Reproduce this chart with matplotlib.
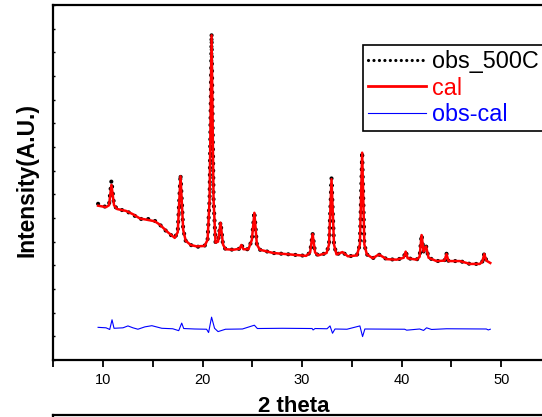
import numpy as np
import matplotlib.pyplot as plt
from matplotlib.ticker import MultipleLocator, NullFormatter

plt.rcParams['font.family'] = ['Liberation Sans', 'DejaVu Sans']

# observed / calculated pattern (2 theta, intensity)
two_theta = [9.5, 10.3, 10.6, 10.84, 11.1, 11.4, 12.3, 13.0, 13.7, 14.5, 15.2, 15.7,
             16.5, 17.2, 17.5, 17.78, 18.05, 18.3, 18.8, 19.4, 20.2, 20.5, 20.7, 20.9,
             21.1, 21.3, 21.55, 21.8, 22.05, 22.3, 23.1, 23.7, 23.9, 24.1, 24.6, 24.95,
             25.2, 25.45, 25.75, 27.1, 28.8, 30.4, 30.8, 31.05, 31.3, 31.6, 32.45, 32.7,
             32.95, 33.2, 33.45, 34.05, 34.6, 35.5, 35.8, 36.03, 36.25, 36.5, 37.1, 37.7,
             38.5, 39.5, 40.2, 40.4, 40.6, 41.5, 41.8, 42.0, 42.2, 42.45, 42.7, 43.5,
             44.3, 44.5, 44.7, 45.85, 46.85, 47.85, 48.1, 48.3, 48.5, 48.9]
obs = [3300, 3230, 3280, 3790, 3280, 3190, 3150, 3070, 2980, 2980, 2940, 2860,
       2690, 2580, 2710, 3920, 2760, 2520, 2430, 2390, 2410, 2540, 3390, 6890,
       3390, 2480, 2500, 2910, 2440, 2340, 2330, 2350, 2440, 2340, 2340, 2540,
       3130, 2440, 2330, 2260, 2230, 2200, 2270, 2670, 2270, 2210, 2260, 2440,
       3840, 2440, 2230, 2280, 2190, 2210, 2440, 4400, 2440, 2230, 2150, 2230,
       2130, 2120, 2160, 2300, 2150, 2120, 2180, 2650, 2290, 2410, 2160, 2090,
       2100, 2250, 2090, 2090, 2030, 2030, 2080, 2250, 2100, 2050]
cal = [3260, 3230, 3270, 3700, 3270, 3190, 3150, 3080, 2990, 2960, 2930, 2860,
       2700, 2580, 2700, 3880, 2750, 2520, 2430, 2400, 2410, 2540, 3380, 6860,
       3380, 2480, 2500, 2900, 2440, 2340, 2330, 2350, 2430, 2340, 2340, 2540,
       3110, 2440, 2330, 2260, 2230, 2200, 2270, 2660, 2270, 2210, 2260, 2440,
       3820, 2440, 2230, 2280, 2190, 2210, 2440, 4380, 2440, 2230, 2150, 2230,
       2130, 2120, 2160, 2290, 2150, 2120, 2180, 2640, 2290, 2400, 2160, 2090,
       2100, 2240, 2090, 2090, 2030, 2030, 2080, 2240, 2100, 2050]

# difference curve
diff_theta = [9.5, 10.3, 10.67, 10.9, 11.1, 12.0, 12.5, 13.0, 13.5, 14.2, 14.9, 15.9,
              17.0, 17.6, 17.9, 18.1, 19.2, 20.4, 20.6, 20.9, 21.2, 21.55, 22.3, 24.0,
              25.2, 25.5, 28.0, 31.0, 31.1, 31.3, 32.5, 32.8, 33.05, 33.3, 34.5, 35.8,
              36.07, 36.3, 40.3, 40.5, 41.8, 42.2, 42.5, 43.0, 44.5, 48.5, 48.7, 48.9]
diff = [690, 680, 645, 850, 670, 680, 720, 680, 650, 700, 725, 670,
        660, 620, 780, 665, 655, 650, 580, 905, 670, 600, 650, 655,
        735, 665, 670, 665, 635, 665, 660, 720, 565, 655, 650, 720,
        495, 655, 650, 630, 655, 625, 680, 645, 660, 655, 635, 650]

fig = plt.figure(figsize=(5.42, 4.17), dpi=100)
ax = fig.add_axes([53.3 / 542, 57 / 417, 497.7 / 542, 355 / 417])

ax.plot(two_theta, obs, color='black', linestyle=(0, (0.01, 1.7)), linewidth=3.0,
        dash_capstyle='round', label='obs_500C')
ax.plot(two_theta, cal, color='red', linewidth=1.8, label='cal')
ax.plot(diff_theta, diff, color='blue', linewidth=0.8, label='obs-cal')

ax.set_xlim(5, 55)
ax.set_ylim(0, 7500)
ax.xaxis.set_major_locator(MultipleLocator(10))
ax.xaxis.set_minor_locator(MultipleLocator(5))
ax.yaxis.set_major_locator(MultipleLocator(500))
ax.yaxis.set_major_formatter(NullFormatter())
ax.tick_params(axis='x', which='both', direction='out', length=5, width=1.3,
               labelsize=10.5, pad=4)
ax.tick_params(axis='y', direction='in', length=1.5, width=1.0)
for s in ax.spines.values():
    s.set_linewidth(1.6)

fig.text(27 / 542, (417 - 180) / 417, 'Intensity(A.U.)', rotation=90,
         ha='center', va='center', fontsize=16.4, fontweight='bold')
fig.text(294 / 542, 5 / 417, '2 theta', ha='center', va='baseline',
         fontsize=16, fontweight='bold')

leg = ax.legend(loc='upper left', bbox_to_anchor=((363.3 - 53.3) / 497.7, (360 - 45) / 355),
                fontsize=16.8, labelcolor='linecolor', fancybox=False, framealpha=1,
                edgecolor='black', handlelength=2.45, handletextpad=0.28,
                borderpad=0.22, labelspacing=0.15, borderaxespad=0)
leg.get_frame().set_linewidth(1.2)
leg.get_lines()[0].set_linewidth(2.3)
leg.get_lines()[1].set_linewidth(2.0)

# top of the next panel below
ax2 = fig.add_axes([53.3 / 542, -0.5, 497.7 / 542, 0.5 + 2 / 417])
ax2.set_xticks([])
ax2.set_yticks([])
for s in ax2.spines.values():
    s.set_linewidth(1.6)

fig.savefig('out.png', dpi=100)
